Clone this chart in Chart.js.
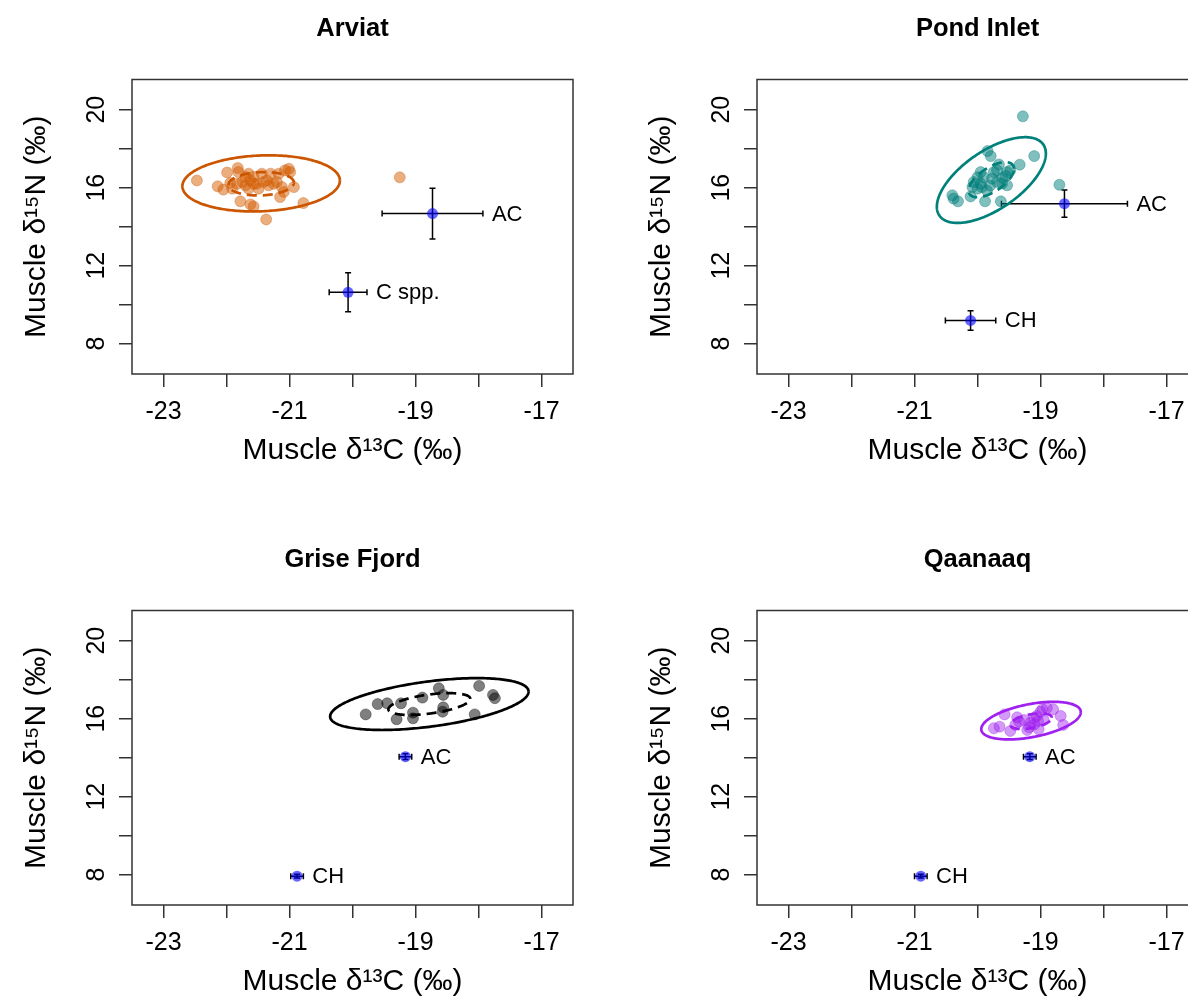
<!DOCTYPE html>
<html><head><meta charset="utf-8">
<script src="https://cdn.jsdelivr.net/npm/chart.js@4.4.1/dist/chart.umd.min.js"></script>
<style>
html,body{margin:0;padding:0;background:#fff;overflow:hidden;width:1188px;height:999px;position:relative;}
.p{position:absolute;width:705px;height:531px;}
canvas{display:block;}
</style></head><body>
<div class="p" style="left:0;top:0"><canvas id="c0" width="705" height="531"></canvas></div>
<div class="p" style="left:625px;top:0"><canvas id="c1" width="705" height="531"></canvas></div>
<div class="p" style="left:0;top:531px"><canvas id="c2" width="705" height="531"></canvas></div>
<div class="p" style="left:625px;top:531px"><canvas id="c3" width="705" height="531"></canvas></div>
<script>
// ---------- axis ----------
const xMin = -23.5, xMax = -16.5;
const yMin = 6.44, yMax = 21.55;
const xTicks = [-23, -22, -21, -20, -19, -18, -17];
const xTickLabels = ['-23', '', '-21', '', '-19', '', '-17'];
const yTicks = [8, 10, 12, 14, 16, 18, 20];
const yTickLabels = ['8', '', '12', '', '16', '', '20'];
const xTitle = 'Muscle δ¹³C (‰)';
const yTitle = 'Muscle δ¹⁵N (‰)';
const siteNames = ['Arviat', 'Pond Inlet', 'Grise Fjord', 'Qaanaaq'];

// ---------- Arviat ----------
const arviatX = [-22.47,-21.99,-21.82,-21.81,-21.65,-21.57,-21.44,-21.30,-21.17,-21.07,-21.01,-20.99,-22.14,-22.05,-21.94,-21.91,-21.83,-21.75,-21.70,-21.62,-21.52,-21.41,-21.33,-21.25,-21.20,-21.12,-21.09,-20.93,-21.15,-21.78,-21.62,-21.57,-20.78,-21.37,-21.65,-21.49,-21.36,-21.57,-21.70,-19.25];
const arviatY = [16.37,16.78,17.01,16.80,16.72,16.55,16.72,16.72,16.72,16.89,16.97,16.80,16.07,15.90,16.24,15.95,16.20,16.29,16.12,16.37,16.20,16.29,16.12,16.20,16.29,16.03,15.78,16.03,15.52,15.30,15.14,15.04,15.21,14.37,15.95,15.95,16.37,16.20,16.55,16.53];
const arviatPreyLabels = ['AC', 'C spp.'];
const arviatPreyX = [-18.73, -20.07];
const arviatPreyY = [14.67, 10.63];
const arviatPreySdX = [0.80, 0.30];
const arviatPreySdY = [1.30, 1.00];
const arviatEllipse = [-21.45, 16.22, 1.25, 1.44, 0.10];   // centre x, centre y, half-range x, half-range y, r
const arviatSEA = [-21.45, 16.20, 0.52, 0.60, 0.10];

// ---------- Pond Inlet ----------
const pondX = [-19.28,-19.10,-19.84,-19.79,-19.33,-19.66,-19.69,-19.53,-19.74,-19.48,-19.95,-20.00,-20.06,-20.08,-20.00,-19.93,-19.85,-19.69,-19.61,-19.53,-19.90,-19.77,-19.95,-20.40,-20.38,-20.31,-20.11,-19.88,-19.63,-18.70,-19.55,-19.80,-19.60];
const pondY = [19.66,17.62,17.88,17.62,17.18,17.19,16.89,16.80,16.80,16.89,16.80,16.54,16.29,16.03,15.95,16.03,15.86,16.29,16.21,16.12,16.54,16.46,16.21,15.61,15.44,15.30,15.55,15.30,15.30,16.15,16.60,16.10,16.50];
const pondPreyLabels = ['AC', 'CH'];
const pondPreyX = [-18.62, -20.11];
const pondPreyY = [15.18, 9.19];
const pondPreySdX = [1.00, 0.40];
const pondPreySdY = [0.70, 0.50];
const pondEllipse = [-19.78, 16.39, 0.865, 2.20, 0.62];
const pondSEA = [-19.78, 16.41, 0.36, 0.90, 0.62];

// ---------- Grise Fjord ----------
const griseX = [-19.79,-19.60,-19.45,-19.23,-19.30,-19.04,-19.04,-18.89,-18.63,-18.56,-18.56,-18.57,-18.06,-17.99,-17.77,-17.74];
const griseY = [16.22,16.75,16.79,16.79,15.97,16.31,16.02,17.08,17.56,17.22,16.58,16.36,16.22,17.68,17.22,17.05];
const grisePreyLabels = ['AC', 'CH'];
const grisePreyX = [-19.16, -20.88];
const grisePreyY = [14.05, 7.92];
const grisePreySdX = [0.10, 0.10];
const grisePreySdY = [0.15, 0.10];
const griseEllipse = [-18.78, 16.75, 1.575, 1.33, 0.48];
const griseSEA = [-18.78, 16.75, 0.65, 0.56, 0.48];

// ---------- Qaanaaq ----------
const qaanaaqX = [-19.57,-19.74,-19.65,-19.48,-19.40,-19.37,-19.26,-19.18,-19.16,-19.10,-19.06,-19.03,-18.97,-18.95,-18.80,-18.68,-18.64,-19.04,-19.34,-19.21,-18.90,-19.00,-19.10];
const qaanaaqY = [16.22,15.51,15.59,15.37,15.68,16.07,15.93,15.56,15.80,16.02,16.14,15.46,16.48,15.93,16.48,16.14,15.68,15.88,15.85,15.42,16.55,16.35,15.70];
const qaanaaqPreyLabels = ['AC', 'CH'];
const qaanaaqPreyX = [-19.17, -20.90];
const qaanaaqPreyY = [14.05, 7.92];
const qaanaaqPreySdX = [0.10, 0.10];
const qaanaaqPreySdY = [0.15, 0.10];
const qaanaaqEllipse = [-19.15, 15.90, 0.79, 0.965, 0.45];
const qaanaaqSEA = [-19.15, 15.87, 0.33, 0.40, 0.45];

// ---------- styles ----------
const FONT = '"Liberation Sans", Arial, Helvetica, sans-serif';
Chart.defaults.font.family = FONT;
Chart.defaults.color = '#000';

function zip(xs, ys) { return xs.map((v, i) => ({x: v, y: ys[i]})); }

const extras = {
  id: 'extras',
  beforeDatasetsDraw(chart, args, o) {
    const xs = chart.scales.x, ys = chart.scales.y, ctx = chart.ctx, a = chart.chartArea;
    ctx.save();
    ctx.beginPath(); ctx.rect(a.left, a.top, a.width, a.height); ctx.clip();
    ctx.strokeStyle = '#000'; ctx.lineWidth = 1.5; ctx.lineCap = 'butt';
    const cap = 3;
    o.prey.x.forEach((mx, i) => {
      const my = o.prey.y[i];
      const x1 = xs.getPixelForValue(mx - o.prey.sdx[i]);
      const x2 = xs.getPixelForValue(mx + o.prey.sdx[i]);
      const y1 = ys.getPixelForValue(my - o.prey.sdy[i]);
      const y2 = ys.getPixelForValue(my + o.prey.sdy[i]);
      const px = xs.getPixelForValue(mx), py = ys.getPixelForValue(my);
      ctx.beginPath();
      ctx.moveTo(x1, py); ctx.lineTo(x2, py);
      ctx.moveTo(x1, py - cap); ctx.lineTo(x1, py + cap);
      ctx.moveTo(x2, py - cap); ctx.lineTo(x2, py + cap);
      ctx.moveTo(px, y1); ctx.lineTo(px, y2);
      ctx.moveTo(px - cap, y1); ctx.lineTo(px + cap, y1);
      ctx.moveTo(px - cap, y2); ctx.lineTo(px + cap, y2);
      ctx.stroke();
    });
    ctx.restore();
  },
  afterDatasetsDraw(chart, args, o) {
    const xs = chart.scales.x, ys = chart.scales.y, ctx = chart.ctx, a = chart.chartArea;
    ctx.save();
    ctx.beginPath(); ctx.rect(a.left, a.top, a.width, a.height); ctx.clip();
    const drawEll = (e, dash) => {
      const [cx, cy, hx, hy, r] = e;
      const phi = Math.acos(r);
      ctx.beginPath();
      const n = 240;
      for (let k = 0; k <= n; k++) {
        const t = 2 * Math.PI * k / n;
        const px = xs.getPixelForValue(cx + hx * Math.cos(t));
        const py = ys.getPixelForValue(cy + hy * Math.cos(t - phi));
        if (k === 0) ctx.moveTo(px, py); else ctx.lineTo(px, py);
      }
      ctx.setLineDash(dash);
      ctx.stroke();
    };
    ctx.strokeStyle = o.lineColor; ctx.lineWidth = 2.7;
    drawEll(o.ellipse, []);
    drawEll(o.sea, [10, 6]);
    ctx.setLineDash([]);
    // prey labels
    ctx.fillStyle = '#000';
    ctx.font = '22px ' + FONT;
    ctx.textAlign = 'left'; ctx.textBaseline = 'middle';
    o.prey.labels.forEach((lab, i) => {
      const px = xs.getPixelForValue(o.prey.x[i] + o.prey.sdx[i]) + 9;
      const py = ys.getPixelForValue(o.prey.y[i]);
      ctx.fillText(lab, px, py + 1);
    });
    ctx.restore();
    // box
    ctx.save();
    ctx.strokeStyle = '#333'; ctx.lineWidth = 1.5;
    ctx.strokeRect(a.left, a.top, a.width, a.height);
    ctx.restore();
  }
};

function makePanel(id, title, px, py, fill, rim, lineColor, ellipse, sea, prey) {
  return new Chart(document.getElementById(id), {
    type: 'scatter',
    data: {
      datasets: [
        { label: 'prey', data: zip(prey.x, prey.y), pointRadius: 5.5, pointBackgroundColor: 'rgba(0,0,255,0.6)', pointBorderWidth: 0, xAxisID: 'x', yAxisID: 'y' },
        { label: title, data: zip(px, py), pointRadius: 5.5, pointBackgroundColor: fill, pointBorderColor: rim, pointBorderWidth: 1, xAxisID: 'x', yAxisID: 'y' }
      ]
    },
    options: {
      responsive: false, animation: false, events: [],
      devicePixelRatio: 1,
      layout: { padding: { left: 0, right: 0, top: 0, bottom: 62 } },
      plugins: {
        legend: { display: false }, tooltip: { enabled: false },
        title: { display: true, text: title, color: '#000', font: { size: 25.5, weight: 'bold', family: FONT }, padding: { top: 13.2, bottom: 35.7 } },
        extras: { ellipse, sea, lineColor, prey }
      },
      scales: {
        x: {
          type: 'linear', position: 'bottom', min: xMin, max: xMax,
          afterBuildTicks: s => { s.ticks = xTicks.map(v => ({ value: v })); },
          afterFit: s => { s.height = 95; },
          ticks: { autoSkip: false, minRotation: 0, maxRotation: 0, padding: 10, color: '#000', font: { size: 25 }, callback: (v, i) => xTickLabels[i] },
          grid: { display: true, drawOnChartArea: false, drawTicks: true, tickLength: 13, color: '#333', lineWidth: 1.5 },
          border: { display: false },
          title: { display: true, text: xTitle, color: '#000', font: { size: 30 }, padding: { top: 0, bottom: 0 } }
        },
        y: {
          type: 'linear', position: 'left', min: yMin, max: yMax,
          afterBuildTicks: s => { s.ticks = yTicks.map(v => ({ value: v })); },
          afterFit: s => { s.width = 132; },
          ticks: { autoSkip: false, minRotation: 90, maxRotation: 90, crossAlign: 'center', padding: 8, color: '#000', font: { size: 25 }, callback: (v, i) => yTickLabels[i] },
          grid: { display: true, drawOnChartArea: false, drawTicks: true, tickLength: 13, color: '#333', lineWidth: 1.5 },
          border: { display: false },
          title: { display: true, text: yTitle, color: '#000', font: { size: 30 }, padding: { top: 19, bottom: 0 } }
        },
        yR: {
          type: 'linear', position: 'right', display: true,
          afterFit: s => { s.width = 132; },
          ticks: { display: false }, grid: { display: false }, border: { display: false }
        }
      }
    },
    plugins: [extras]
  });
}

makePanel('c0', siteNames[0], arviatX, arviatY, 'rgba(213,94,0,0.5)', 'rgba(200,85,0,0.35)', '#CC5500', arviatEllipse, arviatSEA,
  { labels: arviatPreyLabels, x: arviatPreyX, y: arviatPreyY, sdx: arviatPreySdX, sdy: arviatPreySdY });
makePanel('c1', siteNames[1], pondX, pondY, 'rgba(0,128,124,0.5)', 'rgba(0,118,114,0.35)', '#00807A', pondEllipse, pondSEA,
  { labels: pondPreyLabels, x: pondPreyX, y: pondPreyY, sdx: pondPreySdX, sdy: pondPreySdY });
makePanel('c2', siteNames[2], griseX, griseY, 'rgba(0,0,0,0.5)', 'rgba(0,0,0,0.35)', '#000000', griseEllipse, griseSEA,
  { labels: grisePreyLabels, x: grisePreyX, y: grisePreyY, sdx: grisePreySdX, sdy: grisePreySdY });
makePanel('c3', siteNames[3], qaanaaqX, qaanaaqY, 'rgba(160,32,240,0.45)', 'rgba(150,30,230,0.35)', '#A020F0', qaanaaqEllipse, qaanaaqSEA,
  { labels: qaanaaqPreyLabels, x: qaanaaqPreyX, y: qaanaaqPreyY, sdx: qaanaaqPreySdX, sdy: qaanaaqPreySdY });
</script>
</body></html>
